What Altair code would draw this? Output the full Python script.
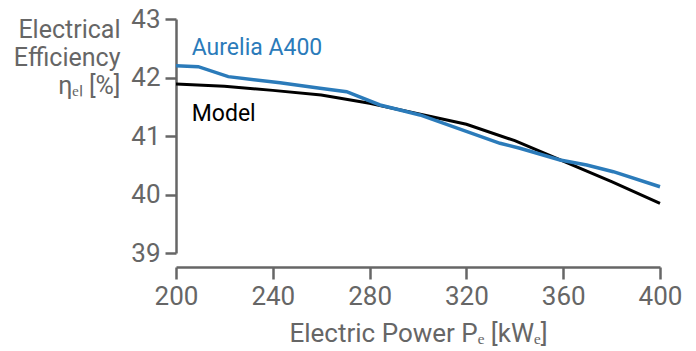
import altair as alt
import pandas as pd

aurelia_power = [200, 209.2, 221.6, 243.0, 259.5, 270.5, 284.3, 300.8, 333.9, 342.1, 358.7, 369.7, 380.7, 400]
aurelia_eff = [42.20, 42.185, 42.015, 41.91, 41.815, 41.757, 41.53, 41.36, 40.875, 40.79, 40.59, 40.504, 40.39, 40.133]

model_power = [200, 220, 240, 260, 280, 300, 320, 340, 360, 380, 400]
model_eff = [41.89, 41.85, 41.78, 41.70, 41.56, 41.38, 41.20, 40.92, 40.57, 40.22, 39.85]

label_text = ["Aurelia A400", "Model"]
label_x = [206.5, 206.5]
label_y = [42.50, 41.38]
label_color = ["#2b7bba", "#000000"]

x_ticks = [200, 240, 280, 320, 360, 400]
y_ticks = [39, 40, 41, 42, 43]

GREY = "#666666"
FONT = "Roboto"

df_a = pd.DataFrame({"power": aurelia_power, "eff": aurelia_eff})
df_m = pd.DataFrame({"power": model_power, "eff": model_eff})
df_l = pd.DataFrame({"text": label_text, "power": label_x, "eff": label_y, "color": label_color})

x_enc = alt.X(
    "power:Q",
    scale=alt.Scale(domain=[200, 400], nice=False),
    axis=alt.Axis(
        values=x_ticks, format="d", offset=14, tickSize=12, tickWidth=2.5, domainWidth=2.5,
        domainColor=GREY, tickColor=GREY, labelColor=GREY, labelFontSize=26, labelFont=FONT,
        labelPadding=4, labelFlush=False, title="Electric Power Pₑ [kWₑ]", titleFontSize=26,
        titleFont=FONT, titleFontWeight="normal", titleColor=GREY, titlePadding=11, grid=False,
    ),
)
y_enc = alt.Y(
    "eff:Q",
    scale=alt.Scale(domain=[39, 43], nice=False),
    axis=alt.Axis(
        values=y_ticks, format="d", tickSize=11, tickWidth=2.5, domainWidth=2.5,
        domainColor=GREY, tickColor=GREY, labelColor=GREY, labelFontSize=26, labelFont=FONT,
        labelPadding=5, labelFlush=False, title=["Electrical", "Efficiency", "ηₑₗ [%]"],
        titleFontSize=25, titleFont=FONT, titleFontWeight="normal", titleColor=GREY,
        titleAngle=0, titleAlign="right", titleBaseline="top", titleX=-56, titleY=-2,
        titleLineHeight=28, grid=False,
    ),
)

model_line = alt.Chart(df_m).mark_line(color="#000000", strokeWidth=3).encode(x=x_enc, y=y_enc)
aurelia_line = alt.Chart(df_a).mark_line(color="#2b7bba", strokeWidth=3.5).encode(x=x_enc, y=y_enc)
labels = alt.Chart(df_l).mark_text(align="left", baseline="middle", fontSize=23, font=FONT).encode(
    x="power:Q", y="eff:Q", text="text:N", color=alt.Color("color:N", scale=None)
)

chart = (
    alt.layer(model_line, aurelia_line, labels)
    .properties(
        width=484, height=234,
        autosize=alt.AutoSizeParams(type="none"),
        padding={"left": 168, "top": 11, "right": 28, "bottom": 100},
    )
    .configure_view(stroke=None)
)

chart.save("out.html", embed_options={"renderer": "svg", "actions": False})
